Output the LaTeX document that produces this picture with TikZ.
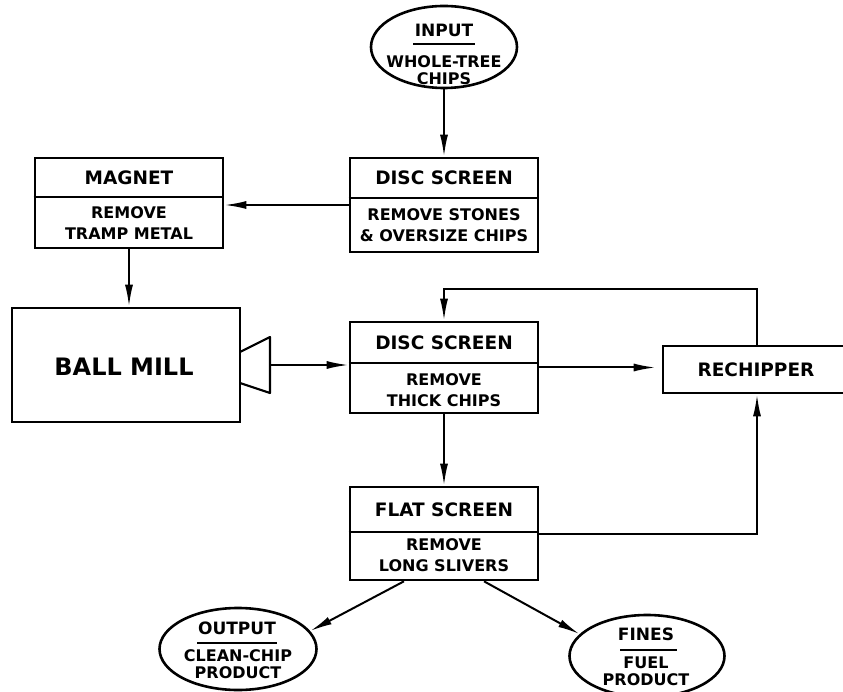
\documentclass[tikz,border=0pt]{standalone}
\usepackage{fontspec}
\setmainfont{DejaVu Sans}
\usetikzlibrary{arrows.meta,shapes.geometric}
\tikzset{
 box/.style={draw, line width=2.6pt, inner sep=0pt},
 ell/.style={draw, ellipse, line width=2.6pt, inner sep=0pt},
 ttl/.style={font=\fontsize{18.5}{21}\selectfont\bfseries, inner sep=0pt},
 bdy/.style={font=\fontsize{16}{21}\selectfont\bfseries, align=center, inner sep=0pt},
 big/.style={font=\fontsize{24}{28}\selectfont\bfseries, inner sep=0pt},
 etl/.style={font=\fontsize{17}{20}\selectfont\bfseries, inner sep=0pt},
 ebd/.style={font=\fontsize{16}{17}\selectfont\bfseries, align=center, inner sep=0pt},
 dv/.style={line width=2.2pt},
 rl/.style={line width=1.8pt},
 arr/.style={line width=2pt, -{Latex[length=22pt,width=8pt]}},
}
\begin{document}
\begin{tikzpicture}[x=1pt,y=-1pt]
\clip (0,0) rectangle (843,692);
\fill[white] (0,0) rectangle (843,692);

% input ellipse
\node[ell, minimum width=146pt, minimum height=82pt] (in) at (444,47) {};
\node[etl] (int) at (444,30) {INPUT};
\draw[rl] (413,44) -- (475,44);
\node[ebd] (inb) at (444,70) {WHOLE-TREE\\CHIPS};

% disc screen 1
\node[box, minimum width=188pt, minimum height=94pt] (ds1) at (444,205) {};
\draw[dv] (ds1.west |- 0,198) -- (ds1.east |- 0,198);
\node[ttl] (ds1t) at (444,178) {DISC SCREEN};
\node[bdy] (ds1b) at (444,225) {REMOVE STONES\\\& OVERSIZE CHIPS};

% magnet
\node[box, minimum width=188pt, minimum height=90pt] (mag) at (129,203) {};
\draw[dv] (mag.west |- 0,197) -- (mag.east |- 0,197);
\node[ttl] (magt) at (129,178) {MAGNET};
\node[bdy] (magb) at (129,223) {REMOVE\\TRAMP METAL};

% ball mill
\node[box, minimum width=228pt, minimum height=114pt] (ball) at (126,365) {};
\node[big] (ballt) at (124,367) {BALL MILL};
\draw[dv, line join=round] (240,352) -- (270,337) -- (270,393) -- (240,383);
\coordinate (horn) at (270,365);

% disc screen 2
\node[box, minimum width=188pt, minimum height=91pt] (ds2) at (444,367.5) {};
\draw[dv] (ds2.west |- 0,363) -- (ds2.east |- 0,363);
\node[ttl] (ds2t) at (444,343) {DISC SCREEN};
\node[bdy] (ds2b) at (444,390) {REMOVE\\THICK CHIPS};

% rechipper
\node[box, minimum width=188pt, minimum height=47pt] (rech) at (757,369.5) {};
\node[ttl] (recht) at (756,370) {RECHIPPER};

% flat screen
\node[box, minimum width=188pt, minimum height=93pt] (flat) at (444,533.5) {};
\draw[dv] (flat.west |- 0,532) -- (flat.east |- 0,532);
\node[ttl] (flatt) at (444,510) {FLAT SCREEN};
\node[bdy] (flatb) at (444,555) {REMOVE\\LONG SLIVERS};

% output ellipse
\node[ell, minimum width=157pt, minimum height=82pt] (out) at (238,649) {};
\node[etl] (outt) at (237,628) {OUTPUT};
\draw[rl] (197,643) -- (277,643);
\node[ebd] (outb) at (238,664) {CLEAN-CHIP\\PRODUCT};

% fines ellipse
\node[ell, minimum width=155pt, minimum height=82pt] (fin) at (647,656) {};
\node[etl] (fint) at (646,634) {FINES};
\draw[rl] (620,650) -- (677,650);
\node[ebd] (finb) at (646,671) {FUEL\\PRODUCT};

% connectors
\draw[arr] (in.south) -- (ds1.north);
\draw[arr] (ds1.west) -- (ds1.west -| mag.east);
\draw[arr] (mag.south) -- (mag.south |- ball.north);
\draw[arr] (horn) -- (horn -| ds2.west);
\draw[arr] (ds2.east) -- ([xshift=-6pt]ds2.east -| rech.west);
\draw[arr] (rech.north) |- (ds2.north |- 0,289) -- (ds2.north);
\draw[arr] (ds2.south) -- (flat.north);
\draw[arr] (flat.east) -| (rech.south);
\draw[arr] ([xshift=-40pt]flat.south) -- (out.14);
\draw[arr] ([xshift=40pt]flat.south) -- (fin.162);
\end{tikzpicture}
\end{document}
